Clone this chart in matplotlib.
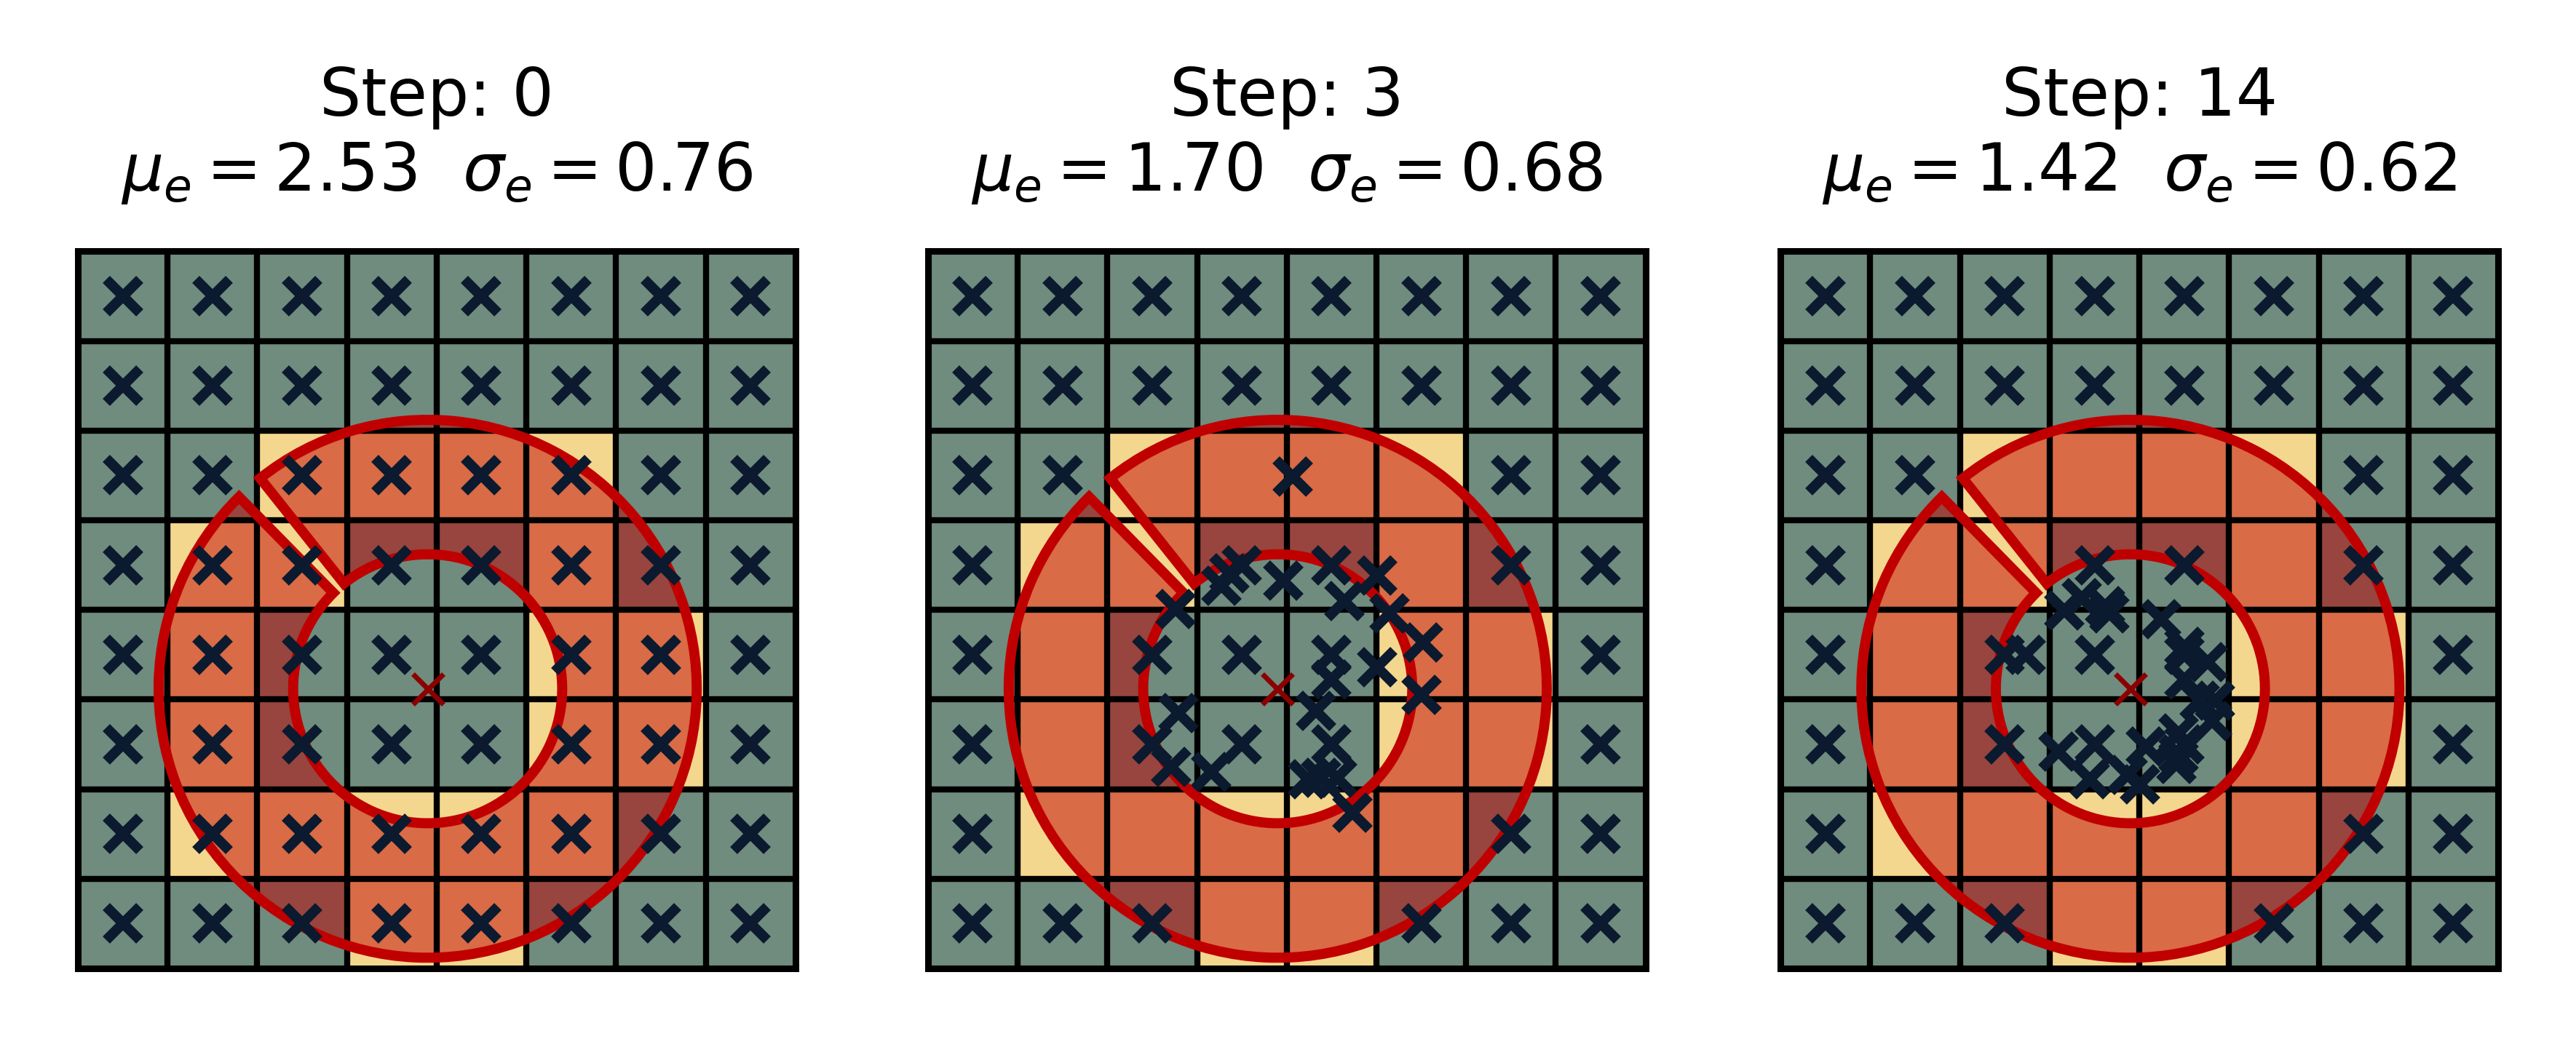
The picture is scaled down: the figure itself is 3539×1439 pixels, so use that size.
import numpy as np
import matplotlib
matplotlib.use("Agg")
import matplotlib.pyplot as plt
from matplotlib.colors import ListedColormap
from matplotlib.patches import Wedge

# Panel data
steps = [0, 3, 14]
mu_e = [2.53, 1.70, 1.42]
sigma_e = [0.76, 0.68, 0.62]

# 1 = cell touched by the ring (yellow), 0 = other (green); rows top to bottom
cell_mask = np.array([
    [0, 0, 0, 0, 0, 0, 0, 0],
    [0, 0, 0, 0, 0, 0, 0, 0],
    [0, 0, 1, 1, 1, 1, 0, 0],
    [0, 1, 1, 0, 0, 1, 0, 0],
    [0, 1, 0, 0, 0, 1, 1, 0],
    [0, 1, 0, 0, 0, 1, 1, 0],
    [0, 1, 1, 1, 1, 1, 0, 0],
    [0, 0, 0, 1, 1, 0, 0, 0],
])

ring_center = (3.9, 4.88)
ring_outer = 3.0
ring_inner = 1.5
gap_angles = (-134.5, -128.5)  # data-angle gap of the ring (y axis inverted)

# sample points that left the yellow cells, (col, row) from top-left
moved_step3 = [
    (3.27, 3.73), (3.36, 3.59), (3.96, 3.67), (4.64, 3.90), (5.01, 3.62),
    (5.15, 4.04), (5.52, 4.36), (2.76, 3.99), (4.50, 4.78), (5.01, 4.64),
    (5.50, 4.95), (4.33, 5.13), (2.79, 5.15), (2.71, 5.75), (3.16, 5.81),
    (4.38, 5.87), (4.56, 5.87), (4.24, 5.89), (4.73, 6.26), (4.07, 2.51),
]
moved_step14 = [
    (3.16, 4.01), (3.36, 3.87), (3.62, 3.96), (3.67, 4.04), (4.24, 4.10),
    (2.73, 4.50), (4.50, 4.41), (4.76, 4.58), (4.50, 4.78), (4.67, 5.01),
    (4.84, 5.01), (4.81, 5.24), (3.10, 5.58), (4.07, 5.52), (4.44, 5.61),
    (4.41, 5.72), (3.45, 5.89), (3.87, 5.84), (4.01, 5.95), (4.44, 5.38),
]
moved_points = [None, moved_step3, moved_step14]

cmap = ListedColormap(["#6f8c7e", "#f4d78e"])
rows, cols = np.indices(cell_mask.shape)
fixed_x = (cols + 0.5)[cell_mask == 0]
fixed_y = (rows + 0.5)[cell_mask == 0]
moving_x = (cols + 0.5)[cell_mask == 1]
moving_y = (rows + 0.5)[cell_mask == 1]

fig = plt.figure(figsize=(7.078, 2.878), dpi=500)
lefts = [0.030, 0.360, 0.691]
for i, left in enumerate(lefts):
    ax = fig.add_axes([left, 0.075, 0.279, 0.685])
    ax.imshow(cell_mask, cmap=cmap, vmin=0, vmax=1, extent=[0, 8, 8, 0],
              interpolation="nearest", zorder=0)
    ax.add_patch(Wedge(ring_center, ring_outer, gap_angles[1], gap_angles[0] + 360,
                       width=ring_outer - ring_inner, facecolor=(0.75, 0, 0, 0.5),
                       edgecolor="none", zorder=1))
    for k in range(1, 8):
        ax.axhline(k, color="black", lw=1.2, zorder=2)
        ax.axvline(k, color="black", lw=1.2, zorder=2)
    ax.add_patch(Wedge(ring_center, ring_outer, gap_angles[1], gap_angles[0] + 360,
                       width=ring_outer - ring_inner, facecolor="none",
                       edgecolor="#c00000", lw=2.0, zorder=3))
    xs = list(fixed_x)
    ys = list(fixed_y)
    if moved_points[i] is None:
        xs += list(moving_x)
        ys += list(moving_y)
    else:
        xs += [p[0] for p in moved_points[i]]
        ys += [p[1] for p in moved_points[i]]
    ax.plot(xs, ys, "x", color="#0b1a2e", ms=6.5, mew=2.0, zorder=4)
    ax.plot(*ring_center, "x", color="#8b0000", ms=6, mew=1.0, zorder=4)
    ax.set_xlim(0, 8)
    ax.set_ylim(8, 0)
    ax.set_xticks([])
    ax.set_yticks([])
    for s in ax.spines.values():
        s.set_linewidth(1.3)
    ax.set_title(f"Step: {steps[i]}\n$\\mu_e={mu_e[i]:.2f}$  $\\sigma_e={sigma_e[i]:.2f}$",
                 fontsize=13, pad=12)

fig.savefig("out.png", dpi=500)
